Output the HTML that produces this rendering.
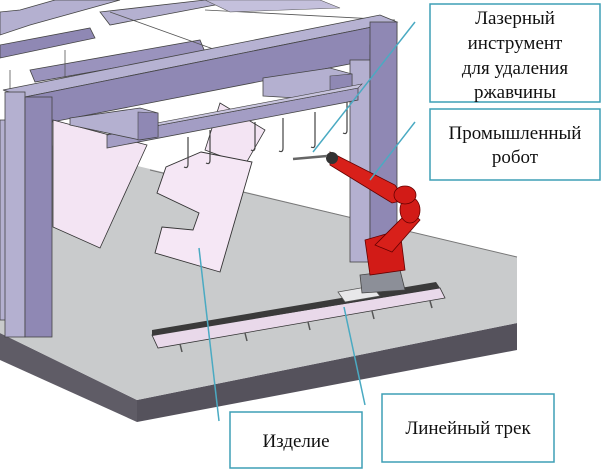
<!DOCTYPE html>
<html><head><meta charset="utf-8"><style>
html,body{margin:0;padding:0;background:#fff;width:606px;height:471px;overflow:hidden}
svg{display:block}
text{font-family:"Liberation Serif","DejaVu Serif",serif;font-size:19px;fill:#111}
</style></head><body>
<svg width="606" height="471" viewBox="0 0 606 471" xmlns="http://www.w3.org/2000/svg">
<!-- floor -->
<polygon points="0,333 137,400 137,422 0,360" fill="#5f5c66"/>
<polygon points="137,400 517,323 517,350 137,422" fill="#55525c"/>
<polygon points="0,133 517,257 517,323 137,400 0,333" fill="#c9cbcc"/>
<line x1="150" y1="170" x2="517" y2="257" stroke="#777" stroke-width="1"/>
<!-- back frame structure -->
<polygon points="0,12 20,10 55,0 120,0 30,25 0,35" fill="#b4b0d0" stroke="#444" stroke-width="0.8"/>
<polygon points="0,45 90,28 95,38 0,58" fill="#8f88b4" stroke="#444" stroke-width="0.8"/>
<polygon points="30,70 200,40 205,52 35,82" fill="#9a93bd" stroke="#444" stroke-width="0.8"/>
<polygon points="100,12 205,0 235,0 215,5 110,25" fill="#b4b0d0" stroke="#444" stroke-width="0.8"/>
<line x1="205" y1="10" x2="395" y2="20" stroke="#555" stroke-width="0.8"/>
<line x1="110" y1="12" x2="230" y2="55" stroke="#555" stroke-width="0.8"/>
<line x1="10" y1="70" x2="10" y2="125" stroke="#555" stroke-width="0.8"/>
<line x1="65" y1="50" x2="65" y2="90" stroke="#555" stroke-width="0.8"/>
<polygon points="205,0 320,0 340,8 230,12" fill="#c4c0dc" stroke="#555" stroke-width="0.6"/>
<!-- top beam -->
<polygon points="3,90 380,15 397,22 25,97" fill="#b6b2d2" stroke="#444" stroke-width="0.8"/>
<polygon points="25,97 397,22 397,40 370,45 370,60 52,122 25,122" fill="#8f88b4" stroke="#444" stroke-width="0.8"/>
<!-- right column -->
<rect x="350" y="60" width="20" height="202" fill="#b4b0d0" stroke="#444" stroke-width="0.8"/>
<rect x="370" y="22" width="27" height="240" fill="#8f88b4" stroke="#444" stroke-width="0.8"/>
<!-- upper crossbeam right -->
<polygon points="263,78 330,68 352,74 352,98 330,100 263,96" fill="#b4b0d0" stroke="#444" stroke-width="0.8"/>
<polygon points="330,76 352,74 352,98 330,100" fill="#8f88b4" stroke="#444" stroke-width="0.6"/>
<!-- panels -->
<polygon points="53,120 147,145 100,248 53,227" fill="#f3e4f3" stroke="#333" stroke-width="0.8"/>
<polygon points="220,103 265,130 245,165 205,150" fill="#f3e4f3" stroke="#333" stroke-width="0.8"/>
<polygon points="201,152 252,162 220,272 155,253 162,227 193,230 199,213 157,193 166,167" fill="#f5e7f5" stroke="#333" stroke-width="0.9"/>
<!-- rack bar -->
<polygon points="107,135 358,88 358,100 107,148" fill="#a39dc4" stroke="#444" stroke-width="0.8"/>
<polygon points="107,135 115,131 362,84 358,88" fill="#c8c4de" stroke="#444" stroke-width="0.6"/>
<!-- upper crossbeam left -->
<polygon points="70,118 140,108 158,113 158,137 140,140 70,125" fill="#b4b0d0" stroke="#444" stroke-width="0.8"/>
<polygon points="138,112 158,113 158,137 138,140" fill="#8f88b4" stroke="#444" stroke-width="0.6"/>
<!-- hooks -->
<g stroke="#444" stroke-width="1.2" fill="none">
<path d="M188,137 v27 q0,5 -4,3"/><path d="M210,130 v30 q0,5 -4,3"/><path d="M283,118 v30 q0,5 -4,3"/><path d="M315,112 v32 q0,5 -4,3"/><path d="M347,102 v28 q0,5 -4,3"/><path d="M255,122 v25 q0,5 -4,3"/>
</g>
<!-- left column -->
<rect x="0" y="120" width="8" height="200" fill="#b4b0d0" stroke="#444" stroke-width="0.8"/>
<rect x="5" y="92" width="20" height="245" fill="#b4b0d0" stroke="#444" stroke-width="0.8"/>
<rect x="25" y="97" width="27" height="240" fill="#8f88b4" stroke="#444" stroke-width="0.8"/>
<!-- track -->
<polygon points="152,335 440,288 445,298 158,348" fill="#e9d9ea" stroke="#333" stroke-width="0.8"/>
<polygon points="152,330 436,282 440,288 152,336" fill="#3a3a3a"/>
<g stroke="#555" stroke-width="1.5"><line x1="180" y1="344" x2="182" y2="352"/><line x1="245" y1="333" x2="247" y2="341"/><line x1="308" y1="322" x2="310" y2="330"/><line x1="372" y1="311" x2="374" y2="319"/><line x1="430" y1="301" x2="432" y2="308"/></g>
<polygon points="338,292 372,286 380,296 345,302" fill="#e8e8ea" stroke="#555" stroke-width="0.8"/>
<!-- robot -->
<polygon points="360,275 400,270 405,290 362,293" fill="#8c8f98" stroke="#444" stroke-width="0.8"/>
<path d="M365,240 L400,230 L405,270 L370,275 Z" fill="#d21b17" stroke="#600" stroke-width="0.8"/>
<path d="M375,245 L410,210 L420,220 L392,252 Z" fill="#d8201a" stroke="#600" stroke-width="0.8"/>
<ellipse cx="410" cy="210" rx="10" ry="13" fill="#d21b17" stroke="#600" stroke-width="0.8"/>
<path d="M330,152 L395,185 L405,200 L392,203 L330,165 Z" fill="#d8201a" stroke="#600" stroke-width="0.8"/>
<ellipse cx="405" cy="195" rx="11" ry="9" fill="#d21b17" stroke="#600" stroke-width="0.8"/>
<circle cx="332" cy="158" r="6" fill="#333"/>
<line x1="293" y1="159" x2="327" y2="156" stroke="#666" stroke-width="2.5"/>
<!-- leader lines -->
<g stroke="#4aaac2" stroke-width="1.5">
<line x1="415" y1="22" x2="313" y2="152"/>
<line x1="415" y1="122" x2="370" y2="180"/>
<line x1="219" y1="421" x2="199" y2="248"/>
<line x1="365" y1="405" x2="344" y2="307"/>
</g>
<!-- label boxes -->
<g fill="#fff" stroke="#3e9fb5" stroke-width="1.5">
<rect x="430" y="4" width="170" height="98"/>
<rect x="430" y="109" width="170" height="71"/>
<rect x="230" y="412" width="132" height="56"/>
<rect x="382" y="394" width="172" height="68"/>
</g>
<text x="515" y="24" text-anchor="middle">Лазерный</text>
<text x="515" y="49" text-anchor="middle">инструмент</text>
<text x="515" y="74" text-anchor="middle">для удаления</text>
<text x="515" y="98" text-anchor="middle">ржавчины</text>
<text x="515" y="139" text-anchor="middle">Промышленный</text>
<text x="515" y="163" text-anchor="middle">робот</text>
<text x="296" y="447" text-anchor="middle">Изделие</text>
<text x="468" y="434" text-anchor="middle">Линейный трек</text>
</svg>
</body></html>
